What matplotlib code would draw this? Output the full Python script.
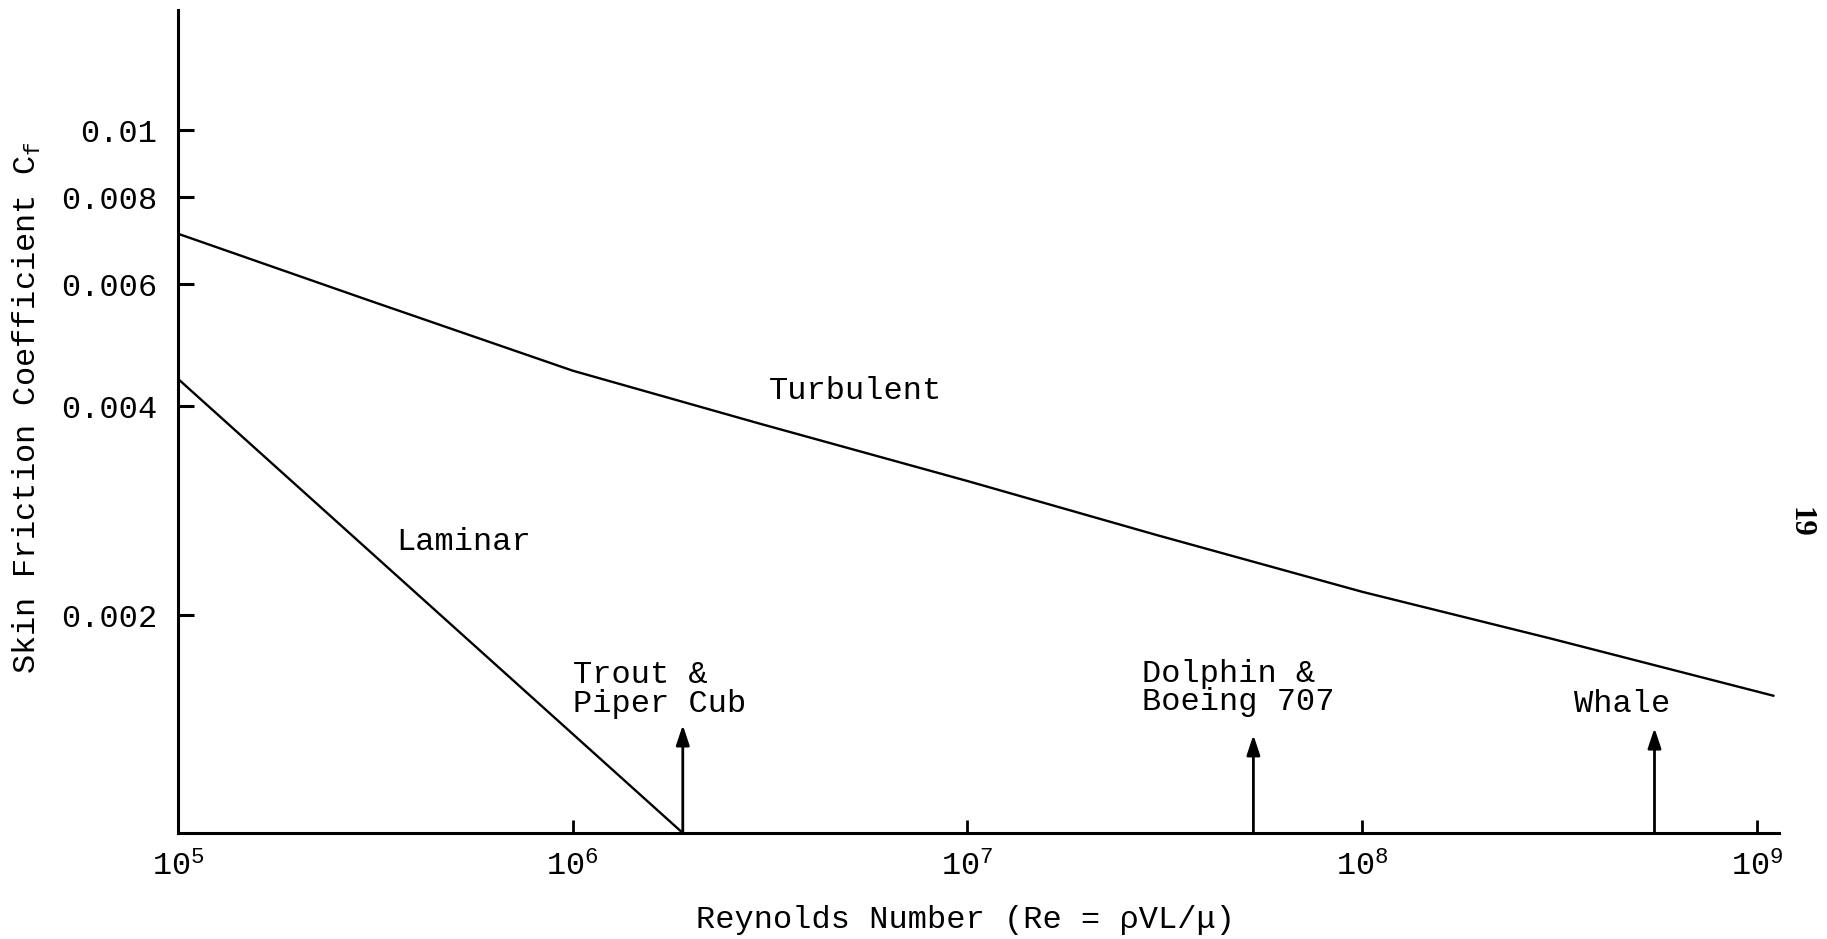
import matplotlib
matplotlib.use("Agg")
import matplotlib.pyplot as plt
from matplotlib.ticker import FixedLocator, FixedFormatter, NullLocator

# Skin friction coefficient against Reynolds number (flat plate)
turb_re = [1e5, 3e5, 1e6, 3e6, 1e7, 3e7, 1e8, 3e8, 1.1e9]
turb_cf = [0.00709, 0.0057, 0.0045, 0.00377, 0.00312, 0.00261, 0.00216, 0.00185, 0.00153]
lam_re = [1e5, 1.9e6]
lam_cf = [0.00438, 0.00097]

x_ticks = [1e5, 1e6, 1e7, 1e8, 1e9]
x_tick_labels = [r"$\mathregular{10^{5}}$", r"$\mathregular{10^{6}}$",
                 r"$\mathregular{10^{7}}$", r"$\mathregular{10^{8}}$",
                 r"$\mathregular{10^{9}}$"]
y_ticks = [0.002, 0.004, 0.006, 0.008, 0.01]
y_tick_labels = ["0.002", "0.004", "0.006", "0.008", "0.01"]

examples = ["Trout &\nPiper Cub", "Dolphin &\nBoeing 707", "Whale"]
example_re = [1.9e6, 5.3e7, 5.5e8]

plt.rcParams["font.family"] = ["Liberation Mono", "DejaVu Sans Mono"]
plt.rcParams["font.size"] = 23

W, H = 1827, 939
fig = plt.figure(figsize=(W / 100, H / 100), dpi=100)
ax_l, ax_r, ax_t, ax_b = 178, 1779, 10, 833
ax = fig.add_axes([ax_l / W, 1 - ax_b / H, (ax_r - ax_l) / W, (ax_b - ax_t) / H])

ax.set_xscale("log")
ax.set_yscale("log")
y_bottom = 0.00097
ax.set_xlim(1e5, 1.137e9)
ax.set_ylim(y_bottom, 0.0149)

ax.plot(turb_re, turb_cf, color="black", lw=1.7, solid_joinstyle="round")
ax.plot(lam_re, lam_cf, color="black", lw=1.7)

ax.text(5.2e6, 0.0042, "Turbulent", ha="center", va="center")
ax.text(5.3e5, 0.00255, "Laminar", ha="center", va="center")

# Arrows marking typical Reynolds numbers
tips = [0.001388, 0.001343, 0.001374]
for re, tip in zip(example_re, tips):
    ax.annotate("", xy=(re, tip), xytext=(re, y_bottom),
                arrowprops=dict(arrowstyle="-|>,head_length=0.6,head_width=0.2",
                                mutation_scale=20, lw=2, color="black",
                                shrinkA=0, shrinkB=0))

ax.text(1.0e6, 0.00156, examples[0], ha="left", va="center", linespacing=0.95)
ax.text(2.77e7, 0.00157, examples[1], ha="left", va="center", linespacing=0.95)
ax.text(4.55e8, 0.00149, examples[2], ha="center", va="center")

for side in ("top", "right"):
    ax.spines[side].set_visible(False)
for side in ("left", "bottom"):
    ax.spines[side].set_linewidth(2.2)

ax.xaxis.set_major_locator(FixedLocator(x_ticks))
ax.xaxis.set_major_formatter(FixedFormatter(x_tick_labels))
ax.xaxis.set_minor_locator(NullLocator())
ax.yaxis.set_major_locator(FixedLocator(y_ticks))
ax.yaxis.set_major_formatter(FixedFormatter(y_tick_labels))
ax.yaxis.set_minor_locator(NullLocator())

ax.tick_params(axis="y", direction="in", length=11.5, width=2.2, pad=15)
ax.tick_params(axis="x", direction="in", length=9.5, width=2, pad=13)

ax.set_xlabel(r"Reynolds Number (Re = ρVL/μ)", va="center")
ax.xaxis.set_label_coords((966 - ax_l) / (ax_r - ax_l), (ax_b - 920) / (ax_b - ax_t))
ax.set_ylabel(r"Skin Friction Coefficient C$_\mathregular{f}$", va="center")
ax.yaxis.set_label_coords((27 - ax_l) / (ax_r - ax_l), (ax_b - 408) / (ax_b - ax_t))

fig.text(1800 / W, 1 - 522 / H, "19", rotation=-90, ha="center", va="center",
         family="Liberation Serif", fontsize=22, fontweight="bold")

fig.savefig("out.png", dpi=100, facecolor="white")
